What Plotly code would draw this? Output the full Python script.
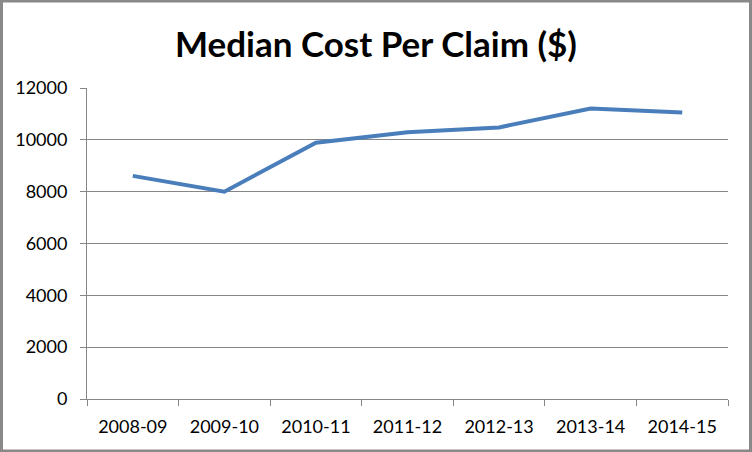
import plotly.graph_objects as go

# datos
anios = ["2008-09", "2009-10", "2010-11", "2011-12", "2012-13", "2013-14", "2014-15"]
costo_mediano = [8610, 8000, 9890, 10290, 10480, 11210, 11050]
ticks_y = [0, 2000, 4000, 6000, 8000, 10000, 12000]

W, H = 752, 452
ML, MR, MT, MB = 87, 24, 88, 53
pw = W - ML - MR
ph = H - MT - MB

gris = "#868686"
fuente = "Lato, 'Open Sans', sans-serif"

fig = go.Figure()
fig.add_trace(go.Scatter(
    x=anios,
    y=costo_mediano,
    mode="lines",
    line=dict(color="#4A7EBB", width=4),
    hoverinfo="x+y",
))

# borde exterior del gráfico (estilo Excel)
fig.add_shape(
    type="rect", xref="paper", yref="paper",
    x0=(1.5 - ML) / pw, x1=(W - 1.5 - ML) / pw,
    y0=(1 - MB) / ph, y1=(H - 1 - MB) / ph,
    line=dict(color="#898989", width=3),
    layer="below",
)

fig.update_layout(
    width=W, height=H,
    margin=dict(l=ML, r=MR, t=MT, b=MB, autoexpand=False),
    paper_bgcolor="white",
    plot_bgcolor="white",
    showlegend=False,
    font=dict(family=fuente, size=18, color="black"),
    title=dict(
        text="<b>Median Cost Per Claim ($)</b>",
        x=376 / W, xref="container", xanchor="center",
        y=1 - 45 / H, yanchor="middle",
        font=dict(family=fuente, size=35, color="black"),
    ),
    xaxis=dict(
        type="category",
        range=[-0.5, len(anios) - 0.5],
        automargin=False,
        showline=True, linecolor=gris, linewidth=1,
        ticks="outside", ticklen=6, tickcolor=gris,
        tickson="boundaries",
        showgrid=False,
        ticklabelstandoff=11,
    ),
    yaxis=dict(
        range=[0, 12000],
        tickvals=ticks_y,
        tickformat="d",
        automargin=False,
        showline=True, linecolor=gris, linewidth=1,
        ticks="outside", ticklen=6, tickcolor=gris,
        showgrid=True, gridcolor=gris, gridwidth=1,
        zeroline=False,
        ticklabelstandoff=9,
    ),
)

# sin margen del body para que el gráfico arranque en (0, 0)
fig.write_html(
    "out.html",
    config={"displayModeBar": False},
    post_script="document.body.style.margin='0';",
)
